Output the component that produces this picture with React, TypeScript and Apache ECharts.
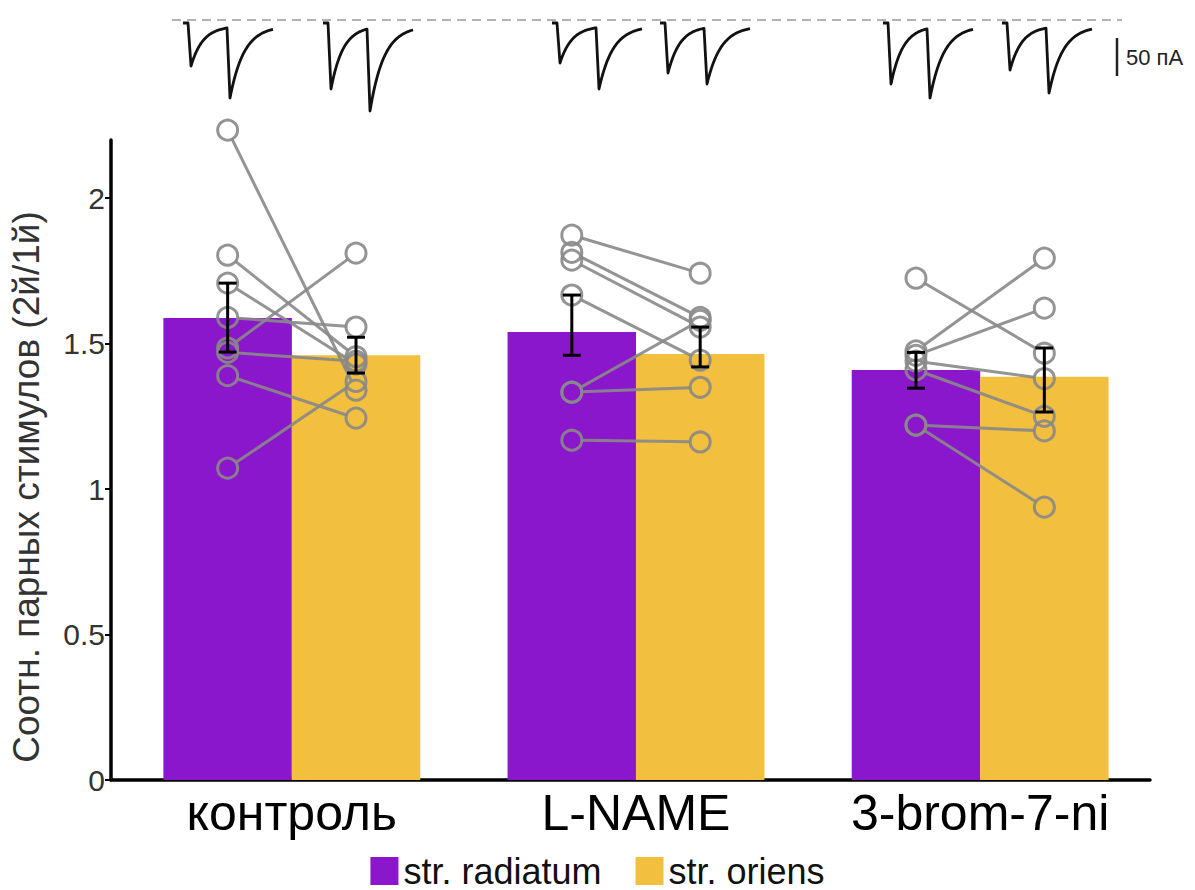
import React, { useEffect, useRef } from 'react';
import * as echarts from 'echarts';

// ---- data ----
const categories = ['контроль', 'L-NAME', '3-brom-7-ni'];
const seriesNames = ['str. radiatum', 'str. oriens'];
const radiatumMeans = [1.588, 1.54, 1.409];
const oriensMeans = [1.46, 1.464, 1.386];
const radiatumErrLow = [1.471, 1.46, 1.347];
const radiatumErrHigh = [1.708, 1.667, 1.47];
const oriensErrLow = [1.399, 1.42, 1.265];
const oriensErrHigh = [1.522, 1.557, 1.485];

const controlRadiatum = [2.234, 1.804, 1.708, 1.59, 1.485, 1.47, 1.39, 1.072];
const controlOriens = [1.34, 1.455, 1.43, 1.557, 1.811, 1.44, 1.244, 1.37];
const lnameRadiatum = [1.873, 1.814, 1.787, 1.667, 1.333, 1.333, 1.168];
const lnameOriens = [1.742, 1.59, 1.557, 1.443, 1.58, 1.35, 1.162];
const bromRadiatum = [1.725, 1.475, 1.46, 1.44, 1.41, 1.22, 1.22];
const bromOriens = [1.467, 1.794, 1.622, 1.38, 1.25, 1.2, 0.938];

const yTicks = [0, 0.5, 1, 1.5, 2];

// example current traces (decoration): first / second response amplitude, px
const traceAmp1 = [43, 66, 40, 50, 61, 47];
const traceAmp2 = [75, 88, 66, 61, 75, 70];

// ---- layout / style ----
const traceLeft = [183, 323, 552, 660, 883, 1002];
const PURPLE = '#8A17CB';
const YELLOW = '#F2BF3F';
const GRAY = '#888888';
const FONT = '"Liberation Sans", Arial, sans-serif';
const X_MIN = -0.5254;
const X_MAX = 2.4935;
const OFF = 0.1865; // half of a bar, in category units
const R = 10;

function tracePoints(x0: number, a1: number, a2: number) {
  const y0 = 23;
  const pts: number[][] = [];
  for (let t = 0; t <= 90; t += 1) {
    let y = y0;
    if (t <= 5) y = y0;
    else if (t <= 8) y = y0 + (a1 * (t - 5)) / 3;
    else if (t <= 44) y = y0 + 3 + (a1 - 3) * Math.exp(-(t - 8) / 12);
    else {
      const yStart = y0 + 3 + (a1 - 3) * Math.exp(-(44 - 8) / 12);
      if (t <= 47) y = yStart + ((y0 + a2 - yStart) * (t - 44)) / 3;
      else y = y0 + 3 + (a2 - 3) * Math.exp(-(t - 47) / 14);
    }
    pts.push([x0 + t, y]);
  }
  return pts;
}

export default function App() {
  const ref = useRef<HTMLDivElement>(null);
  useEffect(() => {
    if (!ref.current) return;
    const chart = echarts.init(ref.current, undefined, { renderer: 'svg' });

    const groups = [
      [controlRadiatum, controlOriens],
      [lnameRadiatum, lnameOriens],
      [bromRadiatum, bromOriens],
    ];
    const pairData: number[][] = [];
    groups.forEach(([rad, ori], g) => {
      rad.forEach((v, i) => pairData.push([g - OFF, v, g + OFF, ori[i]]));
    });
    const errData: number[][] = [];
    categories.forEach((_, g) => {
      errData.push([g - OFF, radiatumErrLow[g], radiatumErrHigh[g]]);
      errData.push([g + OFF, oriensErrLow[g], oriensErrHigh[g]]);
    });

    const graphics: any[] = [
      {
        type: 'line',
        shape: { x1: 172, y1: 20, x2: 1122, y2: 20 },
        style: { stroke: '#999', lineWidth: 1.5, lineDash: [9, 6] },
      },
      {
        type: 'line',
        shape: { x1: 1117, y1: 38, x2: 1117, y2: 76 },
        style: { stroke: '#222', lineWidth: 2.5 },
      },
      {
        type: 'text',
        x: 1126,
        y: 57,
        style: { text: '50 пА', fontSize: 22, fill: '#222', fontFamily: FONT, verticalAlign: 'middle' },
      },
    ];
    traceLeft.forEach((x0, i) => {
      graphics.push({
        type: 'polyline',
        shape: { points: tracePoints(x0, traceAmp1[i], traceAmp2[i]) },
        style: { stroke: '#111', lineWidth: 2.8, fill: 'none', lineJoin: 'round' },
      });
    });

    chart.setOption({
      animation: false,
      textStyle: { fontFamily: FONT },
      grid: { left: 110, right: 45, top: 140, bottom: 110, containLabel: false },
      legend: {
        data: seriesNames,
        left: 'center',
        top: 848,
        icon: 'rect',
        itemWidth: 28,
        itemHeight: 28,
        itemGap: 34,
        textStyle: { fontSize: 36, lineHeight: 35, color: '#111', fontFamily: FONT },
      },
      xAxis: {
        type: 'value',
        min: X_MIN,
        max: X_MAX,
        splitLine: { show: false },
        axisLine: { show: true, onZero: false, lineStyle: { color: '#000', width: 3.5 } },
        axisTick: { show: false },
        axisLabel: {
          customValues: [0, 1, 2],
          formatter: (v: number) => categories[Math.round(v)] ?? '',
          fontSize: 50,
          color: '#000',
          margin: 8,
          fontFamily: FONT,
        },
      },
      yAxis: {
        type: 'value',
        min: 0,
        max: 2.2,
        splitLine: { show: false },
        axisLine: { show: true, onZero: false, lineStyle: { color: '#000', width: 3.5 } },
        axisTick: { show: true, customValues: yTicks, length: 6, lineStyle: { color: '#000', width: 2 } },
        axisLabel: {
          customValues: yTicks,
          formatter: (v: number) => String(v),
          fontSize: 30,
          color: '#333',
          margin: 6,
          fontFamily: FONT,
        },
        name: 'Соотн. парных стимулов (2й/1й)',
        nameLocation: 'middle',
        nameRotate: 90,
        nameGap: 66,
        nameTextStyle: { fontSize: 37, color: '#333', fontFamily: FONT, padding: [0, 54, 0, 0] },
      },
      graphic: graphics,
      series: [
        {
          name: seriesNames[0],
          type: 'bar',
          barWidth: 128.5,
          barGap: '-100%',
          itemStyle: { color: PURPLE },
          data: radiatumMeans.map((v, g) => [g - OFF, v]),
          z: 2,
        },
        {
          name: seriesNames[1],
          type: 'bar',
          barWidth: 128.5,
          barGap: '-100%',
          itemStyle: { color: YELLOW },
          data: oriensMeans.map((v, g) => [g + OFF, v]),
          z: 2,
        },
        {
          type: 'custom',
          z: 3,
          encode: { x: [0, 2], y: [1, 3] },
          data: pairData,
          renderItem: (params: any, api: any) => {
            const a = api.coord([api.value(0), api.value(1)]);
            const b = api.coord([api.value(2), api.value(3)]);
            const dx = b[0] - a[0];
            const dy = b[1] - a[1];
            const len = Math.hypot(dx, dy) || 1;
            const ux = dx / len;
            const uy = dy / len;
            const st = { stroke: GRAY, lineWidth: 3, fill: 'none', opacity: 0.9 };
            return {
              type: 'group',
              children: [
                {
                  type: 'line',
                  shape: { x1: a[0] + ux * R, y1: a[1] + uy * R, x2: b[0] - ux * R, y2: b[1] - uy * R },
                  style: st,
                },
                { type: 'circle', shape: { cx: a[0], cy: a[1], r: R }, style: st },
                { type: 'circle', shape: { cx: b[0], cy: b[1], r: R }, style: st },
              ],
            };
          },
        },
        {
          type: 'custom',
          z: 4,
          encode: { x: 0, y: [1, 2] },
          data: errData,
          renderItem: (params: any, api: any) => {
            const lo = api.coord([api.value(0), api.value(1)]);
            const hi = api.coord([api.value(0), api.value(2)]);
            const w = 9;
            const st = { stroke: '#000', lineWidth: 3 };
            return {
              type: 'group',
              children: [
                { type: 'line', shape: { x1: lo[0], y1: lo[1], x2: hi[0], y2: hi[1] }, style: st },
                { type: 'line', shape: { x1: lo[0] - w, y1: lo[1], x2: lo[0] + w, y2: lo[1] }, style: st },
                { type: 'line', shape: { x1: hi[0] - w, y1: hi[1], x2: hi[0] + w, y2: hi[1] }, style: st },
              ],
            };
          },
        },
      ],
    });
    return () => chart.dispose();
  }, []);
  return (
    <div
      ref={ref}
      style={{ position: 'absolute', left: 0, top: 0, width: 1195, height: 890, background: '#fff' }}
    />
  );
}
